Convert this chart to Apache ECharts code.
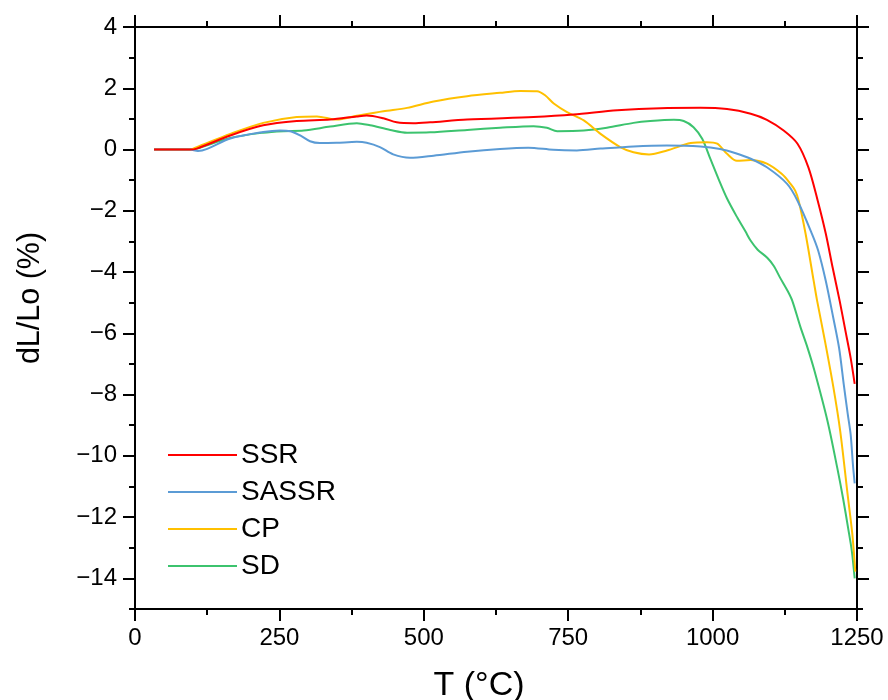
<!DOCTYPE html>
<html>
<head>
<meta charset="utf-8">
<script src="https://cdn.jsdelivr.net/npm/echarts@6/dist/echarts.min.js"></script>
<style>
html,body{margin:0;padding:0;background:#fff;}
#chart{width:888px;height:700px;}
</style>
</head>
<body>
<div id="chart"></div>
<script>
// Series names
const seriesNames = ['SSR', 'SASSR', 'CP', 'SD'];
// Data: [T (°C), dL/Lo (%)]
const ssrData = [[33,0],[95,0],[107,0.03],[165,0.46],[222,0.79],[280,0.93],[338,0.98],[384,1.08],[401,1.11],[430,1.02],[453,0.89],[482,0.86],[511,0.89],[575,0.98],[690,1.06],[759,1.14],[835,1.28],[910,1.35],[979,1.36],[1025,1.32],[1066,1.17],[1094,0.97],[1123,0.62],[1147,0.19],[1166,-0.59],[1182,-1.67],[1196,-2.75],[1208,-3.87],[1220,-4.94],[1230,-5.92],[1239,-6.8],[1246,-7.65]];
const sassrData = [[33,0],[95,0],[109,-0.05],[125,0.02],[165,0.36],[222,0.57],[251,0.62],[269,0.6],[286,0.46],[303,0.27],[320,0.21],[349,0.22],[384,0.25],[401,0.22],[424,0.08],[447,-0.16],[476,-0.27],[517,-0.2],[575,-0.07],[632,0.02],[681,0.06],[724,-0.01],[765,-0.03],[806,0.03],[863,0.1],[921,0.13],[979,0.1],[1013,0.02],[1040,-0.12],[1066,-0.3],[1094,-0.58],[1129,-1.12],[1147,-1.67],[1172,-2.75],[1183,-3.31],[1196,-4.29],[1209,-5.5],[1219,-6.48],[1227,-7.66],[1234,-8.64],[1239,-9.3],[1243,-10.3],[1246,-10.9]];
const cpData = [[33,0],[95,0],[107,0.08],[165,0.51],[222,0.87],[280,1.06],[315,1.08],[349,0.98],[384,1.1],[430,1.25],[471,1.36],[517,1.57],[575,1.74],[632,1.85],[667,1.91],[696,1.9],[710,1.77],[725,1.5],[748,1.22],[777,0.95],[806,0.51],[840,0.08],[863,-0.09],[890,-0.16],[921,-0.03],[962,0.21],[990,0.24],[1008,0.19],[1025,-0.14],[1042,-0.37],[1066,-0.34],[1094,-0.46],[1120,-0.8],[1135,-1.12],[1143,-1.34],[1149,-1.67],[1161,-2.75],[1175,-4.29],[1181,-4.94],[1194,-6.2],[1209,-7.75],[1221,-9.2],[1234,-11.3],[1242,-12.57],[1247,-13.78]];
const sdData = [[33,0],[95,0],[107,0.03],[165,0.38],[222,0.55],[257,0.6],[292,0.62],[338,0.75],[384,0.86],[407,0.79],[442,0.64],[471,0.55],[511,0.56],[575,0.64],[632,0.71],[690,0.76],[713,0.71],[731,0.6],[777,0.62],[817,0.71],[863,0.87],[892,0.93],[933,0.97],[950,0.93],[967,0.73],[982,0.35],[996,-0.3],[1010,-0.95],[1025,-1.6],[1043,-2.23],[1057,-2.68],[1066,-2.98],[1078,-3.27],[1095,-3.54],[1106,-3.8],[1117,-4.19],[1130,-4.62],[1138,-4.94],[1152,-5.79],[1164,-6.45],[1176,-7.2],[1199,-8.87],[1216,-10.41],[1226,-11.4],[1235,-12.4],[1241,-13.1],[1246,-14.0]];
// Axis ticks
const yMajorTicks = [-14,-12,-10,-8,-6,-4,-2,0,2,4];
const yMinorTicks = [-15,-13,-11,-9,-7,-5,-3,-1,1,3];

const colors = ['#FF0000', '#5B9BD5', '#FFC000', '#3CC36E'];
const FONT = "'Liberation Sans', Arial, sans-serif";

function fmt(v){ return v < 0 ? '\u2212' + Math.abs(v) : String(v); }

const chart = echarts.init(document.getElementById('chart'), null, {renderer:'canvas'});

const axisLine = {show:true, onZero:false, lineStyle:{color:'#000', width:2}};
const baseY = {type:'value', min:-15, max:4, splitLine:{show:false}, axisLine: axisLine};

const option = {
  animation: false,
  backgroundColor: '#fff',
  color: colors,
  grid: {left:135, right:31, top:27, bottom:91, containLabel:false},
  legend: {
    orient:'vertical', left:163, top:436, icon:'rect', itemWidth:69, itemHeight:2,
    itemGap:9, textStyle:{fontSize:28, fontFamily:FONT, color:'#000', padding:[0,0,0,-1]},
    data: seriesNames
  },
  xAxis: [
    {type:'value', min:0, max:1250, interval:250, position:'bottom',
     axisLine: axisLine, splitLine:{show:false},
     axisTick:{show:true, length:12, lineStyle:{width:2,color:'#000'}},
     minorTick:{show:true, splitNumber:2, length:6, lineStyle:{width:2,color:'#000'}},
     axisLabel:{fontSize:24, fontFamily:FONT, color:'#000', margin:17, formatter: v => String(v)}},
    {type:'value', min:0, max:1250, interval:250, position:'top',
     axisLine: axisLine, splitLine:{show:false},
     axisTick:{show:true, length:12, lineStyle:{width:2,color:'#000'}},
     minorTick:{show:true, splitNumber:2, length:6, lineStyle:{width:2,color:'#000'}},
     axisLabel:{show:false}}
  ],
  yAxis: [
    Object.assign({}, baseY, {position:'left',
      axisTick:{show:true, length:12, customValues: yMajorTicks, lineStyle:{width:2,color:'#000'}},
      axisLabel:{show:true, customValues: yMajorTicks, formatter: fmt, fontSize:24, fontFamily:FONT, color:'#000', margin:18}}),
    Object.assign({}, baseY, {position:'left',
      axisTick:{show:true, length:6, customValues: yMinorTicks, lineStyle:{width:2,color:'#000'}},
      axisLabel:{show:false}}),
    Object.assign({}, baseY, {position:'right',
      axisTick:{show:true, length:12, customValues: yMajorTicks, lineStyle:{width:2,color:'#000'}},
      axisLabel:{show:false}}),
    Object.assign({}, baseY, {position:'right',
      axisTick:{show:true, length:6, customValues: yMinorTicks, lineStyle:{width:2,color:'#000'}},
      axisLabel:{show:false}})
  ],
  graphic: [
    {type:'text', x:31, y:298, rotation:Math.PI/2,
     style:{text:'dL/Lo (%)', font:"30.5px 'Liberation Sans', Arial, sans-serif", fill:'#000',
            textAlign:'center', textVerticalAlign:'middle'}, silent:true},
    {type:'text', x:479, y:686,
     style:{text:'T (\u00B0C)', font:"34px 'Liberation Sans', Arial, sans-serif", fill:'#000',
            textAlign:'center', textVerticalAlign:'middle'}, silent:true}
  ],
  series: [ssrData, sassrData, cpData, sdData].map((d,i)=>({
    name: seriesNames[i], type:'line', data:d, showSymbol:false, smooth:0.3,
    xAxisIndex:0, yAxisIndex:0, lineStyle:{width:2, color:colors[i]}, itemStyle:{color:colors[i]},
    z: 10-i
  }))
};
chart.setOption(option);
</script>
</body>
</html>
